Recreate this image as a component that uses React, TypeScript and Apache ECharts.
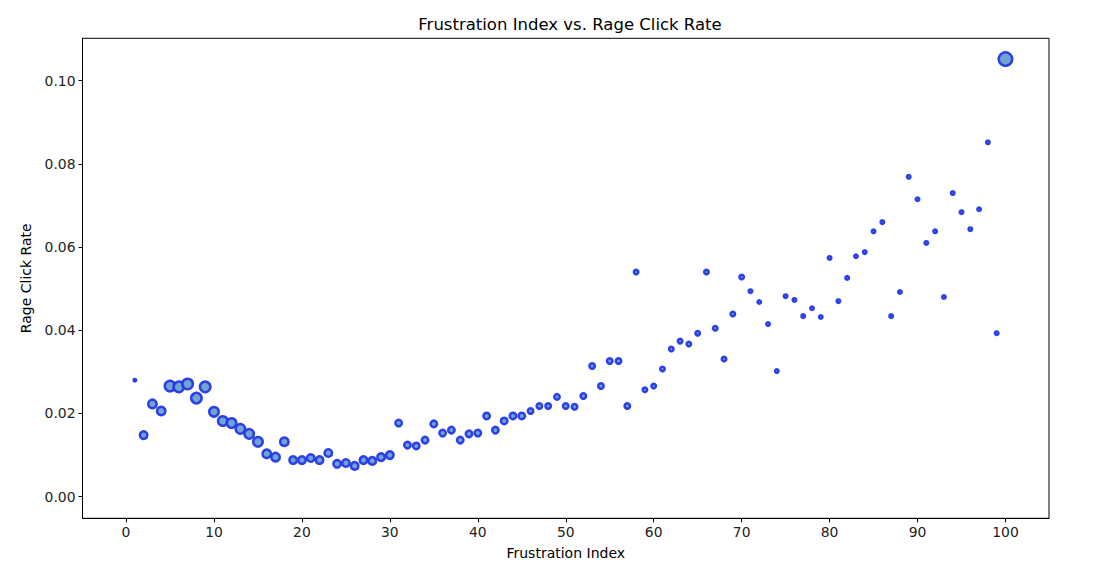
import React, { useEffect, useRef } from "react";
import * as echarts from "echarts";

const frustrationIndex: number[] = Array.from({ length: 100 }, (_, i) => i + 1);

const rageClickRate: number[] = [
  0.0280, 0.0148, 0.0223, 0.0206, 0.0266, 0.0264, 0.0271, 0.0237, 0.0264, 0.0204,
  0.0182, 0.0177, 0.0163, 0.0151, 0.0132, 0.0103, 0.0095, 0.0132, 0.0088, 0.0088,
  0.0093, 0.0088, 0.0105, 0.0079, 0.0081, 0.0074, 0.0088, 0.0086, 0.0095, 0.0100,
  0.0177, 0.0124, 0.0122, 0.0136, 0.0175, 0.0153, 0.0160, 0.0136, 0.0151, 0.0153,
  0.0194, 0.0160, 0.0182, 0.0194, 0.0194, 0.0206, 0.0218, 0.0218, 0.0240, 0.0218,
  0.0216, 0.0242, 0.0314, 0.0266, 0.0326, 0.0326, 0.0218, 0.0540, 0.0257, 0.0266,
  0.0307, 0.0355, 0.0374, 0.0367, 0.0393, 0.0540, 0.0405, 0.0331, 0.0439, 0.0528,
  0.0494, 0.0468, 0.0415, 0.0302, 0.0482, 0.0473, 0.0434, 0.0453, 0.0432, 0.0574,
  0.0470, 0.0526, 0.0578, 0.0588, 0.0638, 0.0660, 0.0434, 0.0492, 0.0769, 0.0715,
  0.0610, 0.0638, 0.0480, 0.0730, 0.0684, 0.0643, 0.0691, 0.0852, 0.0393, 0.1052,
];

// relative weight (e.g. session volume) encoded as marker size
const sessionWeight: number[] = [
  5, 10, 11, 11, 13, 13, 13, 13, 13, 12,
  12, 12, 12, 12, 12, 11, 11, 11, 10, 10,
  10, 10, 10, 10, 10, 10, 10, 10, 10, 10,
  9, 9, 9, 9, 9, 9, 9, 9, 9, 9,
  9, 9, 9, 9, 9, 8, 8, 8, 8, 8,
  8, 8, 8, 8, 8, 8, 8, 7, 7, 7,
  7, 7, 7, 7, 7, 7, 7, 7, 7, 7,
  6, 6, 6, 6, 6, 6, 6, 6, 6, 6,
  6, 6, 6, 6, 6, 6, 6, 6, 6, 6,
  6, 6, 6, 6, 6, 6, 6, 6, 6, 16,
];

const xTicks: number[] = [0, 10, 20, 30, 40, 50, 60, 70, 80, 90, 100];
const yTicks: number[] = [0, 0.02, 0.04, 0.06, 0.08, 0.1];

const FONT = "DejaVu Sans";

export default function App() {
  const ref = useRef<HTMLDivElement>(null);

  useEffect(() => {
    if (!ref.current) return;
    const chart = echarts.init(ref.current, undefined, { renderer: "svg" });
    const data = frustrationIndex.map((x, i) => [x, rageClickRate[i], sessionWeight[i]]);
    chart.setOption({
      animation: false,
      backgroundColor: "#ffffff",
      title: {
        text: "Frustration Index vs. Rage Click Rate",
        left: 565,
        textAlign: "center",
        top: 11,
        textStyle: { fontFamily: FONT, fontSize: 16.5, fontWeight: "normal", color: "#000" },
      },
      grid: {
        left: 82.5,
        right: 51,
        top: 38.3,
        bottom: 62.7,
        show: true,
        borderColor: "#000",
        borderWidth: 1,
        backgroundColor: "transparent",
      },
      xAxis: {
        type: "value",
        min: -4.95,
        max: 104.95,
        name: "Frustration Index",
        nameLocation: "middle",
        nameGap: 28,
        nameTextStyle: { fontFamily: FONT, fontSize: 14, color: "#000" },
        axisLine: { show: true, onZero: false, lineStyle: { color: "#000", width: 1 } },
        splitLine: { show: false },
        axisTick: {
          show: true,
          length: 4,
          inside: false,
          customValues: xTicks,
          lineStyle: { color: "#000", width: 1 },
        },
        axisLabel: {
          customValues: xTicks,
          margin: 7,
          fontFamily: FONT,
          fontSize: 13.9,
          color: "#222",
        },
      },
      yAxis: {
        type: "value",
        min: -0.0052,
        max: 0.1102,
        name: "Rage Click Rate",
        nameLocation: "middle",
        nameGap: 50,
        nameRotate: 90,
        nameTextStyle: { fontFamily: FONT, fontSize: 14, color: "#000" },
        axisLine: { show: true, onZero: false, lineStyle: { color: "#000", width: 1 } },
        splitLine: { show: false },
        axisTick: {
          show: true,
          length: 4,
          inside: false,
          customValues: yTicks,
          lineStyle: { color: "#000", width: 1 },
        },
        axisLabel: {
          customValues: yTicks,
          margin: 7,
          fontFamily: FONT,
          fontSize: 13.9,
          color: "#222",
          formatter: (v: number) => v.toFixed(2),
        },
      },
      series: [
        {
          type: "scatter",
          data,
          symbol: "circle",
          symbolSize: (d: number[]) => Math.max(d[2] - 2.5, 1.5),
          itemStyle: {
            color: "#6a9fd0",
            borderColor: "#2438e8",
            borderWidth: 2.5,
            opacity: 0.95,
          },
        },
      ],
    });
    return () => chart.dispose();
  }, []);

  return (
    <div
      ref={ref}
      style={{ position: "fixed", left: 0, top: 0, width: 1100, height: 581, background: "#fff" }}
    />
  );
}
